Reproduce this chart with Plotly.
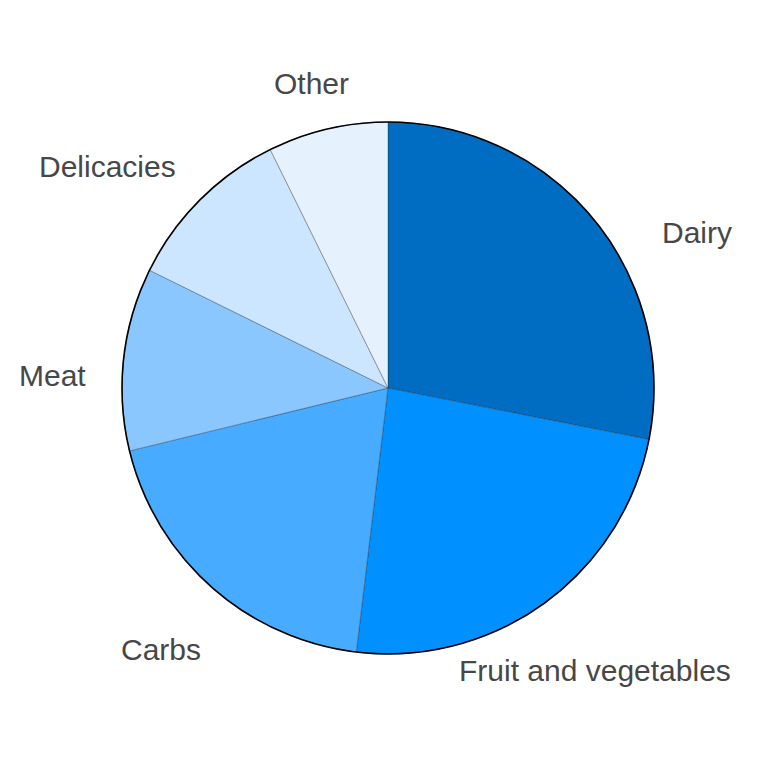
import math
import plotly.graph_objects as go

categories = ["Dairy", "Fruit and vegetables", "Carbs", "Meat", "Delicacies", "Other"]
values = [28.1, 23.8, 19.3, 11.1, 10.4, 7.3]
colors = ["#006DC3", "#0090FF", "#47ABFF", "#8AC7FF", "#CDE6FF", "#E5F2FD"]

# small pixel nudges of the outside labels (label layout styling only)
label_nudge = {
    "Dairy": (42, -64),
    "Fruit and vegetables": (4, -3),
    "Carbs": (2, -3),
    "Meat": (8, -25),
    "Delicacies": (-36, -23),
    "Other": (2, -32),
}

fig = go.Figure()
fig.add_trace(go.Pie(
    labels=categories,
    values=values,
    sort=False,
    direction="clockwise",
    rotation=0,
    marker=dict(colors=colors, line=dict(color="#222222", width=0.35)),
    textinfo="none",
    showlegend=False,
    hoverinfo="label+percent",
    domain=dict(x=[0, 1], y=[0, 1]),
))
# outer outline
fig.add_trace(go.Pie(
    values=[1],
    labels=["outline"],
    marker=dict(colors=["rgba(0,0,0,0)"], line=dict(color="#000000", width=1.6)),
    textinfo="none",
    hoverinfo="skip",
    showlegend=False,
    domain=dict(x=[0, 1], y=[0, 1]),
))

# labels placed radially outside the slices, at the slice mid-angle
total = sum(values)
cum = 0.0
k = 1.3
for name, v in zip(categories, values):
    mid = (cum + v / 2) / total * 2 * math.pi
    cum += v
    dx, dy = label_nudge.get(name, (0, 0))
    fig.add_annotation(
        x=0.5 + k * 0.5 * math.sin(mid),
        y=0.5 + k * 0.5 * math.cos(mid),
        xref="paper", yref="paper",
        text=name, showarrow=False,
        xanchor="center", yanchor="middle",
        xshift=dx, yshift=dy,
        font=dict(family="Liberation Sans", size=30, color="#474747"),
    )

fig.update_layout(
    width=762, height=762,
    margin=dict(l=122, r=108, t=122, b=108),
    paper_bgcolor="white",
    plot_bgcolor="white",
)
fig.write_html("out.html")
